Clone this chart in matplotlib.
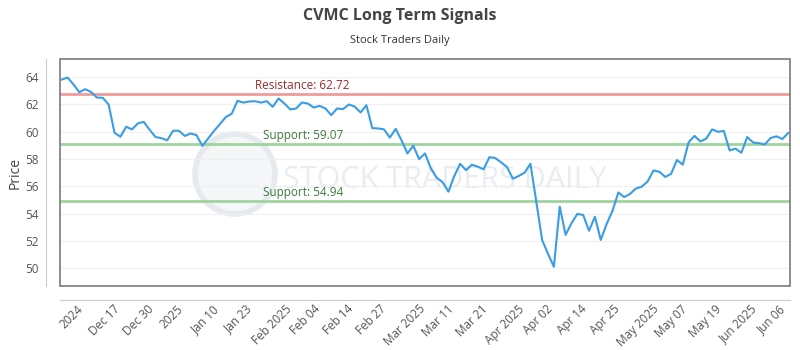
import matplotlib
matplotlib.use('Agg')
import matplotlib.pyplot as plt
import numpy as np
from matplotlib.patches import Circle, Rectangle

# closing prices, one per trading day
prices = [
    63.81, 63.95, 63.45, 62.88, 63.10, 62.90, 62.49, 62.47, 61.98, 59.92,
    59.62, 60.35, 60.16, 60.60, 60.71, 60.13, 59.60, 59.52, 59.36, 60.06,
    60.06, 59.68, 59.86, 59.74, 58.95, 59.50, 60.05, 60.55, 61.06, 61.30,
    62.25, 62.12, 62.20, 62.22, 62.12, 62.22, 61.81, 62.42, 62.05, 61.62,
    61.69, 62.13, 62.05, 61.76, 61.88, 61.69, 61.20, 61.69, 61.64, 61.98,
    61.83, 61.40, 61.93, 60.25, 60.23, 60.16, 59.56, 60.20, 59.35, 58.40,
    58.96, 57.99, 58.40, 57.30, 56.62, 56.30, 55.60, 56.75, 57.64, 57.18,
    57.57, 57.43, 57.24, 58.13, 58.06, 57.74, 57.40, 56.55, 56.75, 56.99,
    57.64, 54.85, 52.05, 51.05, 50.10, 54.50, 52.44, 53.29, 53.97, 53.90,
    52.74, 53.77, 52.07, 53.23, 54.20, 55.54, 55.20, 55.44, 55.83, 55.97,
    56.35, 57.15, 57.06, 56.68, 56.90, 57.92, 57.58, 59.22, 59.68, 59.28,
    59.48, 60.16, 59.98, 60.05, 58.62, 58.75, 58.45, 59.60, 59.20, 59.15,
    59.06, 59.53, 59.65, 59.45, 59.90,
]
tick_labels = ['2024', 'Dec 17', 'Dec 30', '2025', 'Jan 10', 'Jan 23',
               'Feb 2025', 'Feb 04', 'Feb 14', 'Feb 27', 'Mar 2025', 'Mar 11',
               'Mar 21', 'Apr 2025', 'Apr 02', 'Apr 14', 'Apr 25', 'May 2025',
               'May 07', 'May 19', 'Jun 2025', 'Jun 06']
resistance = 62.72
supports = [59.07, 54.94]

plt.rcParams['font.family'] = ['Open Sans', 'DejaVu Sans']

fig = plt.figure(figsize=(8, 3.5), dpi=100)
ax = fig.add_axes([0.075, 0.183, 0.9125, 0.648])

x = np.arange(len(prices))

# faint watermark behind the data
ax.add_patch(Circle((2.35, 1.76), 0.40, transform=fig.dpi_scale_trans,
                    fc='#f4f6f8', ec='#e6eaee', lw=4, zorder=0))
ax.text(0.527, 0.467, 'STOCK TRADERS DAILY', transform=ax.transAxes,
        ha='center', va='center', fontsize=22, color='#e9edf1', zorder=0)

ax.axhline(resistance, color='#f09a9a', lw=2, zorder=2)
for s in supports:
    ax.axhline(s, color='#9fd49f', lw=2, zorder=2)

ax.text(33.0, resistance + 0.15, 'Resistance: %.2f' % resistance,
        color='#9b2b2b', fontsize=8.5, va='bottom')
for s in supports:
    ax.text(34.4, s + 0.15, 'Support: %.2f' % s, color='#3b7a3b',
            fontsize=8.5, va='bottom')

ax.plot(x, prices, color='#3a9de3', lw=1.5, zorder=3)

ax.set_xlim(-0.3, len(prices) - 0.7)
ax.set_ylim(48.7, 65.3)
ax.set_yticks(np.arange(50, 65, 2))
ax.set_xticks(np.linspace(1.7, 121.2, len(tick_labels)))
ax.set_xticklabels(tick_labels)
ax.tick_params(axis='both', length=0, colors='#555555', labelsize=8.5)
ax.tick_params(axis='x', pad=2, labelrotation=45)
ax.tick_params(axis='y', pad=5)
for lbl in ax.get_xticklabels():
    lbl.set_ha('right')
    lbl.set_va('top')
    lbl.set_rotation_mode('anchor')
ax.grid(axis='y', color='#f0f0f0', lw=0.8)
ax.set_axisbelow(True)
ax.set_ylabel('Price', fontsize=10, color='#444444', labelpad=2)

for side in ['top', 'right']:
    ax.spines[side].set_visible(False)
for side in ['left', 'bottom']:
    ax.spines[side].set_position(('outward', 10))
    ax.spines[side].set_color('#cccccc')
ax.add_patch(Rectangle((0, 0), 1, 1, transform=ax.transAxes, fill=False,
                       ec='#7a7a7a', lw=1.2, clip_on=False, zorder=4))

fig.text(0.5, 0.955, 'CVMC Long Term Signals', ha='center', va='center',
         fontsize=11.5, fontweight='bold', color='#444444')
fig.text(0.5, 0.885, 'Stock Traders Daily', ha='center', va='center',
         fontsize=8, color='#333333')

fig.savefig('out.png', dpi=100)
